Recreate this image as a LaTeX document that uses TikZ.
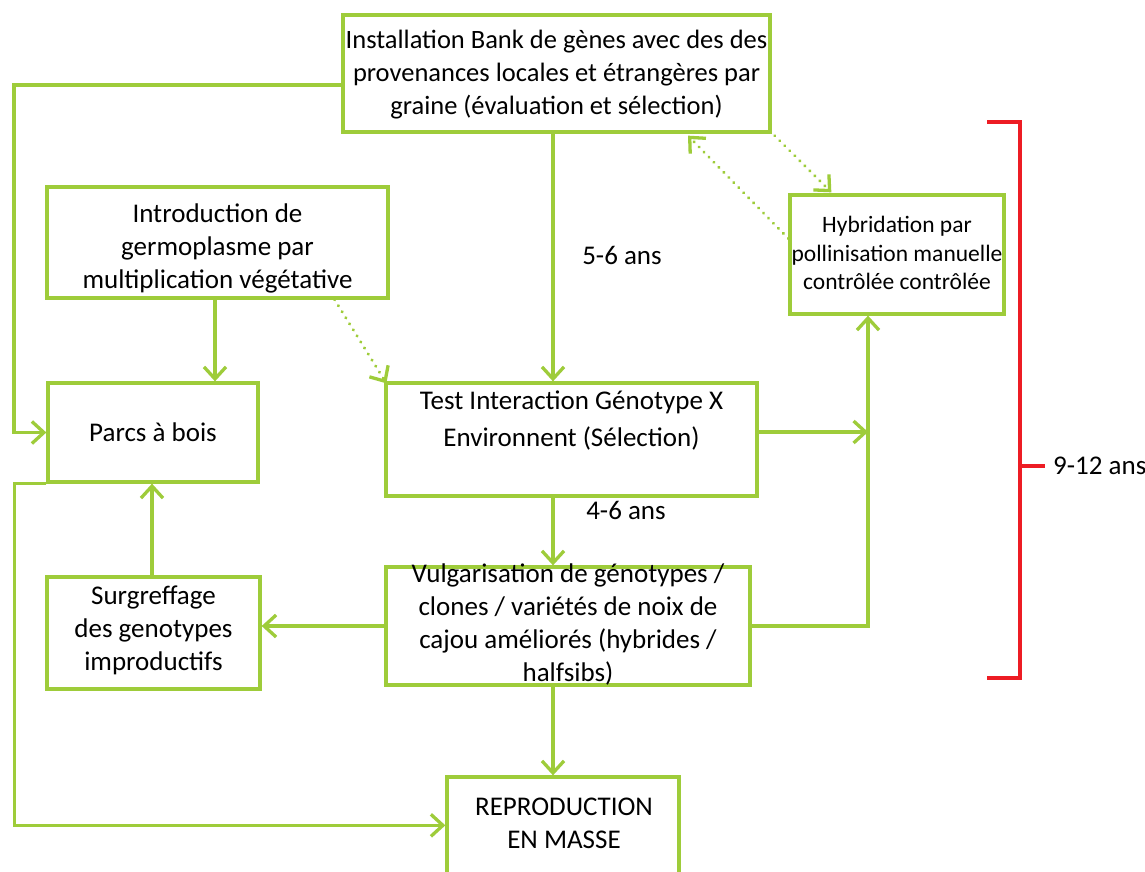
\documentclass[tikz,border=0pt]{standalone}
\usepackage{fontspec}
\setmainfont{Carlito}
\usetikzlibrary{arrows.meta,calc}
\definecolor{lgreen}{RGB}{158,204,58}
\definecolor{bred}{RGB}{237,28,36}
\begin{document}
\begin{tikzpicture}[x=1pt,y=-1pt,
  gbox/.style={draw=lgreen, line width=3.3pt, rectangle, inner sep=0pt},
  txt/.style={font=\fontsize{27}{33}\selectfont, align=center, inner sep=0pt},
  stxt/.style={font=\fontsize{23.5}{28.5}\selectfont, align=center, inner sep=0pt},
  conn/.style={draw=lgreen, line width=3.3pt},
  arr/.style={conn, -{Straight Barb[length=12pt,width=22pt]}},
  darr/.style={arr, line cap=round, dash pattern=on 0.1pt off 7pt},
  bracket/.style={draw=bred, line width=3.3pt}]
\useasboundingbox (0,0) rectangle (1145,872);
\clip (0,0) rectangle (1145,872);
\fill[white] (0,0) rectangle (1145,872);

% boxes
\node[gbox, minimum width=427pt, minimum height=117pt] (top) at (556.5,73.5) {};
\node[gbox, minimum width=341pt, minimum height=111pt] (intro) at (217.5,242.5) {};
\node[gbox, minimum width=210pt, minimum height=99pt] (parcs) at (153,432.5) {};
\node[gbox, minimum width=371pt, minimum height=113pt] (test) at (571.5,439.5) {};
\node[gbox, minimum width=364pt, minimum height=118pt] (vulg) at (568,626) {};
\node[gbox, minimum width=213pt, minimum height=112pt] (surg) at (153.5,633) {};
\node[gbox, minimum width=214pt, minimum height=119pt] (hyb) at (897,254.5) {};
\node[gbox, minimum width=232pt, minimum height=140pt] (repro) at (563,847) {};

% texts
\node[txt, font=\fontsize{26.5}{33}\selectfont] (topt) at (556.5,75) {Installation Bank de gènes avec des des\\provenances locales et étrangères par\\graine (évaluation et sélection)};
\node[txt] (introt) at (217.5,248) {Introduction de\\germoplasme par\\multiplication végétative};
\node[txt] (parcst) at (153,432) {Parcs à bois};
\node[txt, font=\fontsize{27}{37}\selectfont] (testt) at (571.5,421) {Test Interaction Génotype X\\Environnent (Sélection)};
\node[txt] (vulgt) at (568,624) {Vulgarisation de génotypes /\\clones / variétés de noix de\\cajou améliorés (hybrides /\\halfsibs)};
\node[txt] (surgt) at (153.5,630) {Surgreffage\\des genotypes\\improductifs};
\node[stxt] (hybt) at (897,253) {Hybridation par\\pollinisation manuelle\\contrôlée contrôlée};
\node[txt] (reprot) at (564,823) {REPRODUCTION\\EN MASSE};

% labels
\node[txt] (l56) at (622,255) {5-6 ans};
\node[txt] (l46) at (626,510) {4-6 ans};
\node[txt, anchor=west] (l912) at (1053,466) {9-12 ans};

% helper coordinates
\coordinate (vx) at (553,0);
\coordinate (hx) at (868,0);
\coordinate (lx) at (14,0);

% connectors
\draw[arr] (top.west |- 0,85) -| (lx |- parcs.west) -- (parcs.west);
\draw[arr] (intro.south -| 215,0) -- (parcs.north -| 215,0);
\draw[darr] ($(intro.south east)+(-55,0)$) -- ($(test.north west)+(2,2)$);
\draw[arr] (top.south -| vx) -- (test.north -| vx);
\draw[arr] (test.south -| vx) -- (vulg.north -| vx);
\draw[arr] (vulg.south -| vx) -- (repro.north -| vx);
\draw[arr] (vulg.west) -- (vulg.west -| surg.east);
\draw[arr] (surg.north -| 152,0) -- (parcs.south -| 152,0);
\draw[arr] (parcs.south west) -- ++(-32,0) |- ($(repro.north west)+(0,50)$);
\draw[arr] ($(test.east)+(0,-7.5)$) -- ($(hx |- test.east)+(0,-7.5)$);
\draw[arr] (vulg.east) -| (hx |- hyb.south);
\draw[darr] ($(top.south east)+(-2,-3)$) -- ($(hyb.north west)+(43,-1)$);
\draw[darr] ($(hyb.west)+(0,-16)$) -- ($(top.south)+(131.5,2)$);

% red bracket
\coordinate (bt) at (987,122);
\coordinate (bb) at (987,678);
\coordinate (bm) at (1020,466);
\draw[bracket] (bt) -| (bm) |- (bb);
\draw[bracket] (bm) -- ($(l912.west)+(-8,0)$);
\end{tikzpicture}
\end{document}
